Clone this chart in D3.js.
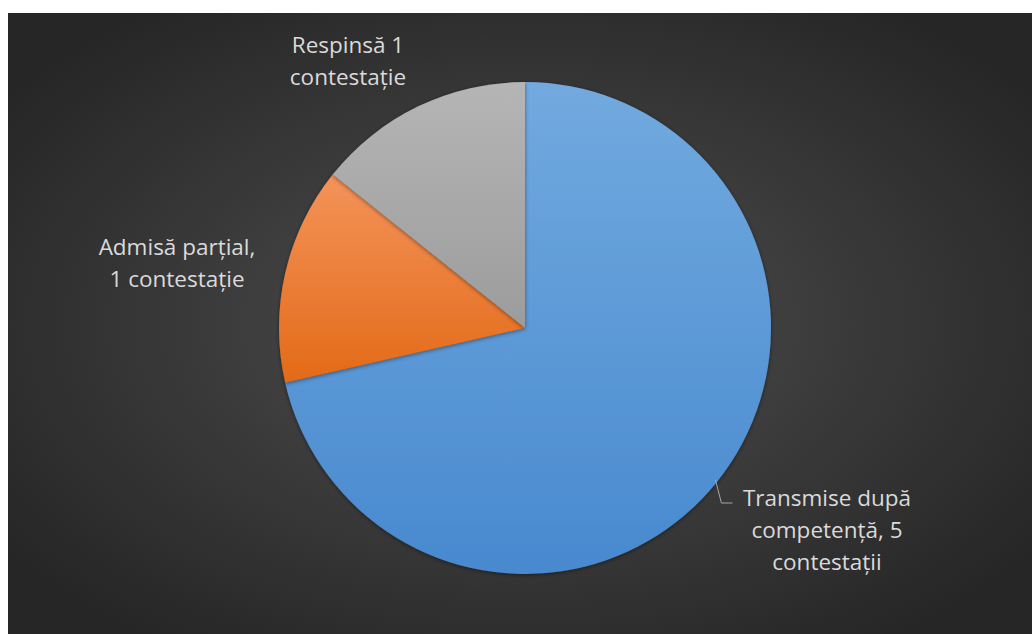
<!DOCTYPE html>
<html>
<head>
<meta charset="utf-8">
<script src="https://cdn.jsdelivr.net/npm/d3@7"></script>
<style>
  html, body { margin: 0; padding: 0; background: #fff; }
  svg { display: block; }
</style>
</head>
<body>
<svg id="chart" width="1032" height="634"></svg>
<script>
// data
const categories = ["Transmise după competență, 5 contestații", "Admisă parțial, 1 contestație", "Respinsă 1 contestație"];
const values = [5, 1, 1];
const labelLines = [
  ["Transmise după", "competență, 5", "contestații"],
  ["Admisă parțial,", "1 contestație"],
  ["Respinsă 1", "contestație"]
];

// colours (top, bottom of each slice gradient)
const sliceColors = [["#72aadf", "#4889cf"], ["#f4935a", "#e36a18"], ["#b5b5b5", "#9c9c9c"]];

const svg = d3.select("#chart");
const W = 1032, H = 634;
const cx = 525, cy = 328, radius = 246;

const defs = svg.append("defs");

// background radial gradient
const bg = defs.append("radialGradient")
  .attr("id", "bg")
  .attr("cx", 0.5).attr("cy", 0.5).attr("r", 0.62);
bg.append("stop").attr("offset", "0%").attr("stop-color", "#4f4f4f");
bg.append("stop").attr("offset", "100%").attr("stop-color", "#262626");

sliceColors.forEach((c, i) => {
  const g = defs.append("linearGradient")
    .attr("id", "slice" + i)
    .attr("x1", 0).attr("y1", 0).attr("x2", 0).attr("y2", 1);
  g.append("stop").attr("offset", "0%").attr("stop-color", c[0]);
  g.append("stop").attr("offset", "100%").attr("stop-color", c[1]);
});

const shadow = defs.append("filter").attr("id", "shadow")
  .attr("x", "-10%").attr("y", "-10%").attr("width", "120%").attr("height", "120%");
shadow.append("feDropShadow")
  .attr("dx", 0).attr("dy", 1).attr("stdDeviation", 2)
  .attr("flood-color", "#000").attr("flood-opacity", 0.45);

svg.append("rect")
  .attr("x", 8).attr("y", 13)
  .attr("width", W - 8).attr("height", H - 13)
  .attr("fill", "url(#bg)");

const pie = d3.pie().sort(null).value(d => d);
const arcs = pie(values);
const arc = d3.arc().innerRadius(0).outerRadius(radius);

const g = svg.append("g").attr("transform", `translate(${cx},${cy})`);

g.selectAll("path.slice")
  .data(arcs)
  .join("path")
  .attr("class", "slice")
  .attr("d", arc)
  .attr("fill", (d, i) => `url(#slice${i})`)
  .attr("filter", "url(#shadow)");

// label layout (x centre, first baseline; relative to pie centre)
const labelPos = [[302, 178], [-348, -73], [-177, -275]];
const lineH = 32;

const labels = g.selectAll("text.lbl")
  .data(arcs)
  .join("text")
  .attr("class", "lbl")
  .attr("text-anchor", "middle")
  .attr("font-family", "'Open Sans', Lato, sans-serif")
  .attr("font-size", 22.5)
  .attr("fill", "#dadada");

labels.each(function (d, i) {
  d3.select(this).selectAll("tspan")
    .data(labelLines[i])
    .join("tspan")
    .attr("x", labelPos[i][0])
    .attr("y", (l, j) => labelPos[i][1] + j * lineH)
    .text(l => l);
});

// leader line for the big slice
const mid = (arcs[0].startAngle + arcs[0].endAngle) / 2;
const p0 = [Math.sin(mid) * radius * 0.99, -Math.cos(mid) * radius * 0.99];
g.append("polyline")
  .attr("points", [p0, [p0[0] + 6, 175], [p0[0] + 17, 175]].map(p => p.join(",")).join(" "))
  .attr("fill", "none")
  .attr("stroke", "#a6a6a6")
  .attr("stroke-width", 1);
</script>
</body>
</html>
